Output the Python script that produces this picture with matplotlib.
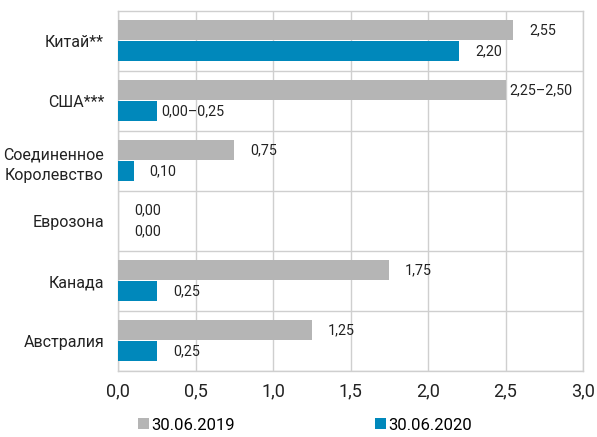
import matplotlib
matplotlib.use("Agg")
import matplotlib.pyplot as plt
from matplotlib.patches import Patch
from matplotlib.ticker import FuncFormatter
import numpy as np

plt.rcParams['font.family'] = ['Roboto', 'DejaVu Sans']

categories = ["Китай**", "США***", "Соединенное\nКоролевство", "Еврозона", "Канада", "Австралия"]
rates_2019 = [2.55, 2.50, 0.75, 0.00, 1.75, 1.25]
rates_2020 = [2.20, 0.25, 0.10, 0.00, 0.25, 0.25]
labels_2019 = ["2,55", "2,25–2,50", "0,75", "0,00", "1,75", "1,25"]
labels_2020 = ["2,20", "0,00–0,25", "0,10", "0,00", "0,25", "0,25"]
series_names = ["30.06.2019", "30.06.2020"]
xticks = [0.0, 0.5, 1.0, 1.5, 2.0, 2.5, 3.0]

c_gray = "#b5b5b5"
c_blue = "#0088bb"
c_grid = "#cfcfcf"

W, H = 597, 437
fig = plt.figure(figsize=(W/100, H/100), dpi=100)
ax = fig.add_axes([118/W, 1-371/H, (583-118)/W, (371-11)/H])

y = np.arange(len(categories))
bh = 0.333
ax.barh(y - 0.183, rates_2019, height=bh, color=c_gray, zorder=3)
ax.barh(y + 0.167, rates_2020, height=bh, color=c_blue, zorder=3)

for i in range(len(categories)):
    for val, lab, off in ((rates_2019[i], labels_2019[i], -0.183), (rates_2020[i], labels_2020[i], 0.167)):
        dx = 4 if "–" in lab else 16
        ax.annotate(lab, xy=(val, y[i] + off), xytext=(dx, 0), textcoords='offset pixels',
                    ha='left', va='center', fontsize=10.3, color='#222222', zorder=4)

ax.set_xlim(0, 3.0)
ax.set_ylim(len(categories) - 0.5, -0.5)
ax.set_xticks(xticks)
ax.xaxis.set_major_formatter(FuncFormatter(lambda v, p: f"{v:.1f}".replace('.', ',')))
ax.set_yticks(y)
ax.set_yticklabels(categories, multialignment='center', linespacing=1.45)
ax.set_yticks(np.arange(len(categories)) + 0.5, minor=True)
ax.tick_params(axis='both', which='both', length=0)
ax.tick_params(axis='x', labelsize=13, pad=8, colors='#222222')
ax.tick_params(axis='y', labelsize=11.5, pad=10, colors='#222222')
ax.grid(axis='x', which='major', color=c_grid, linewidth=1, zorder=0)
ax.grid(axis='y', which='minor', color=c_grid, linewidth=1, zorder=0)
for s in ax.spines.values():
    s.set_color(c_grid)
    s.set_linewidth(1)

handles = [Patch(facecolor=c_gray, edgecolor='none'), Patch(facecolor=c_blue, edgecolor='none')]
fig.legend(handles, series_names, loc='center left', bbox_to_anchor=(138/W, 1-425/H), ncol=2,
           frameon=False, fontsize=12, handlelength=0.65, handleheight=0.65, handletextpad=0.15,
           columnspacing=8.4, borderaxespad=0, borderpad=0)

fig.savefig("out.png", dpi=100)
